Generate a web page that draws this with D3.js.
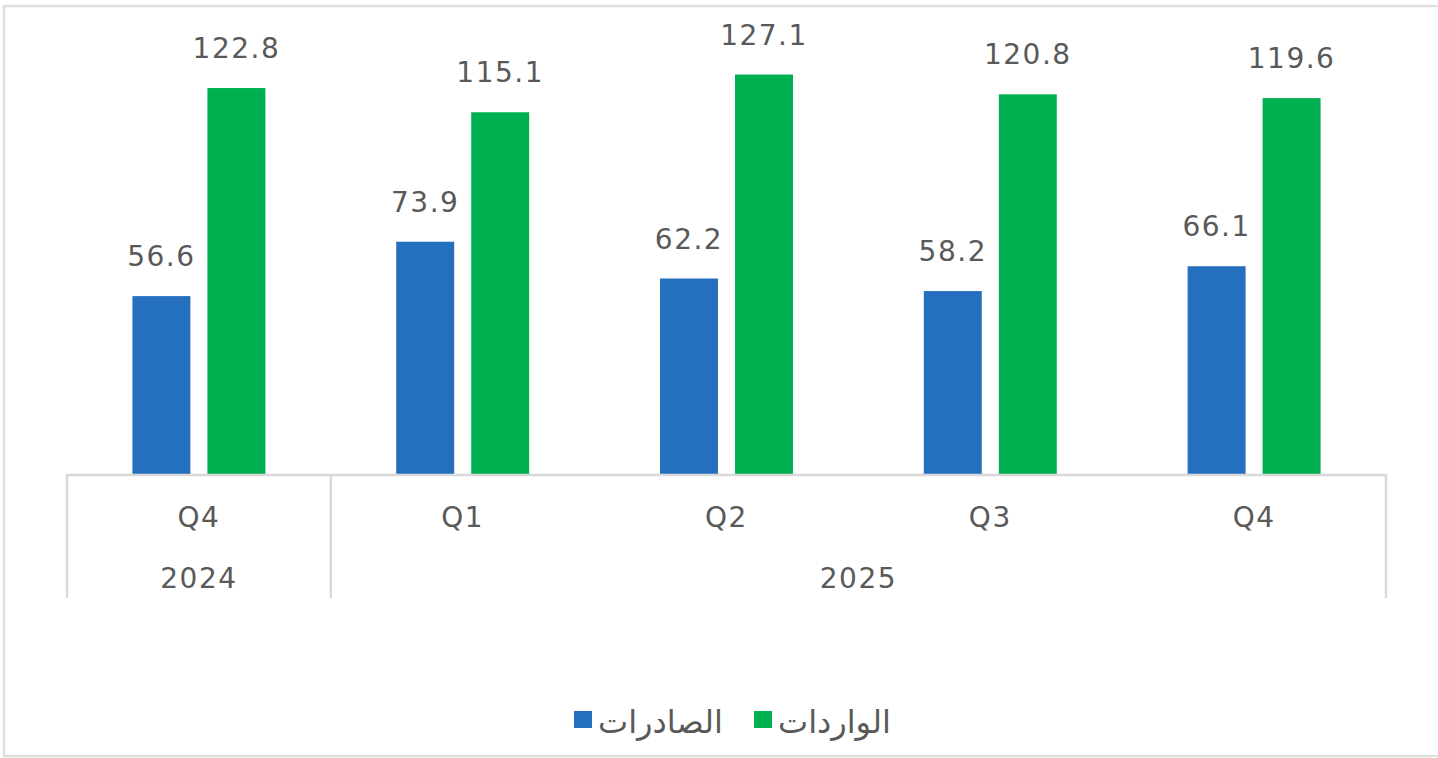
<!DOCTYPE html>
<html>
<head>
<meta charset="utf-8">
<script src="https://cdn.jsdelivr.net/npm/d3@7"></script>
<style>
  html, body { margin: 0; padding: 0; background: #fff; }
  svg { display: block; }
</style>
</head>
<body>
<svg id="chart" width="1438" height="758"></svg>
<script>
// ---- data ----
const quarters = ["Q4", "Q1", "Q2", "Q3", "Q4"];
const years = [{ label: "2024", from: 0, to: 0 }, { label: "2025", from: 1, to: 4 }];
const seriesNames = ["الصادرات", "الواردات"];
const exportsVals = [56.6, 73.9, 62.2, 58.2, 66.1];
const importsVals = [122.8, 115.1, 127.1, 120.8, 119.6];
const seriesColors = ["#2470BE", "#00B050"];

const svg = d3.select("#chart");
const textColor = "#595959";
const lineColor = "#D9D9D9";
const numFont = "DejaVu Sans, sans-serif";

// frame
svg.append("rect")
  .attr("x", 4).attr("y", 6).attr("width", 1450).attr("height", 750)
  .attr("fill", "none").attr("stroke", "#E0E0E0").attr("stroke-width", 2.5);

const plotLeft = 67, plotRight = 1386, baseY = 474;
const x0 = d3.scaleBand().domain(d3.range(quarters.length)).range([plotLeft, plotRight]).padding(0);
const x1 = d3.scaleBand().domain([0, 1]).range([0, x0.bandwidth()]).paddingInner(0.227).paddingOuter(0.872);
const y = d3.scaleLinear().domain([0, 140]).range([baseY, baseY - 140 * 3.143]);

const data = quarters.map((q, i) => ({ i, vals: [exportsVals[i], importsVals[i]] }));

const groups = svg.append("g").selectAll("g").data(data).join("g")
  .attr("transform", d => `translate(${x0(d.i)},0)`);

groups.selectAll("rect").data(d => d.vals.map((v, s) => ({ v, s }))).join("rect")
  .attr("x", d => x1(d.s))
  .attr("width", x1.bandwidth())
  .attr("y", d => y(d.v))
  .attr("height", d => y(0) - y(d.v))
  .attr("fill", d => seriesColors[d.s]);

groups.selectAll("text.val").data(d => d.vals.map((v, s) => ({ v, s }))).join("text")
  .attr("class", "val")
  .attr("x", d => x1(d.s) + x1.bandwidth() / 2)
  .attr("y", d => y(d.v) - 30)
  .attr("text-anchor", "middle")
  .attr("font-family", numFont)
  .attr("font-size", 28)
  .attr("letter-spacing", 1.5)
  .attr("fill", textColor)
  .text(d => d.v.toFixed(1));

// axis
const axisG = svg.append("g");
axisG.append("line")
  .attr("x1", plotLeft).attr("x2", plotRight).attr("y1", baseY + 1).attr("y2", baseY + 1)
  .attr("stroke", lineColor).attr("stroke-width", 2.5);

// separators between year groups
const sepXs = [x0(0), x0(1), x0(quarters.length - 1) + x0.bandwidth()];
axisG.selectAll("line.sep").data(sepXs).join("line")
  .attr("class", "sep")
  .attr("x1", d => d).attr("x2", d => d)
  .attr("y1", baseY).attr("y2", 598)
  .attr("stroke", lineColor).attr("stroke-width", 2.5);

axisG.selectAll("text.q").data(quarters).join("text")
  .attr("class", "q")
  .attr("x", (d, i) => x0(i) + x0.bandwidth() / 2)
  .attr("y", 527)
  .attr("text-anchor", "middle")
  .attr("font-family", numFont)
  .attr("font-size", 28)
  .attr("letter-spacing", 1.5)
  .attr("fill", textColor)
  .text(d => d);

axisG.selectAll("text.yr").data(years).join("text")
  .attr("class", "yr")
  .attr("x", d => (x0(d.from) + x0(d.to) + x0.bandwidth()) / 2)
  .attr("y", 588)
  .attr("text-anchor", "middle")
  .attr("font-family", numFont)
  .attr("font-size", 28)
  .attr("letter-spacing", 1.5)
  .attr("fill", textColor)
  .text(d => d.label);

// legend
const legend = svg.append("g");
const legendItems = [{ name: seriesNames[0], color: seriesColors[0], x: 574 }, { name: seriesNames[1], color: seriesColors[1], x: 754 }];
const li = legend.selectAll("g").data(legendItems).join("g")
  .attr("transform", d => `translate(${d.x},0)`);
li.append("rect").attr("x", 0).attr("y", 711).attr("width", 18).attr("height", 17).attr("fill", d => d.color);
li.append("text")
  .attr("x", 24).attr("y", 733)
  .attr("font-family", numFont)
  .attr("font-size", 32)
  .attr("fill", textColor)
  .attr("text-anchor", "start")
  .attr("direction", "ltr")
  .text(d => d.name);
</script>
</body>
</html>
